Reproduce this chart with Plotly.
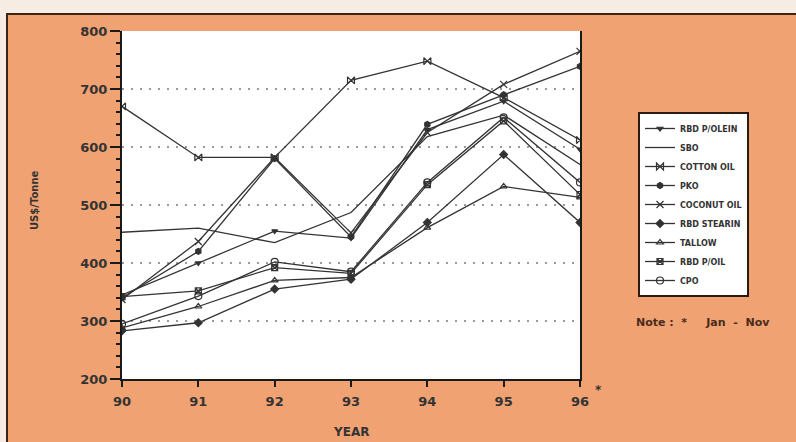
import plotly.graph_objects as go

# Vegetable oil / fat prices, US$ per tonne (1996 = Jan-Nov average)
years = [90, 91, 92, 93, 94, 95, 96]
year_labels = ["90", "91", "92", "93", "94", "95", "96"]

rbd_polein = [345, 400, 455, 443, 630, 679, 596]
sbo = [453, 460, 435, 487, 618, 655, 570]
cotton_oil = [670, 582, 582, 715, 748, 685, 612]
pko = [340, 420, 580, 445, 639, 690, 739]
coconut_oil = [337, 437, 582, 452, 625, 708, 765]
rbd_stearin = [283, 297, 355, 372, 470, 587, 470]
tallow = [288, 325, 370, 375, 461, 532, 513]
rbd_poil = [342, 352, 392, 382, 535, 645, 518]
cpo = [295, 343, 402, 385, 539, 651, 539]

series = [
    ("RBD P/OLEIN", rbd_polein, "triangle-down", 5),
    ("SBO", sbo, None, 0),
    ("COTTON OIL", cotton_oil, "bowtie-open", 7),
    ("PKO", pko, "hexagon", 6),
    ("COCONUT OIL", coconut_oil, "x-thin-open", 7),
    ("RBD STEARIN", rbd_stearin, "diamond", 6),
    ("TALLOW", tallow, "triangle-up-open", 6),
    ("RBD P/OIL", rbd_poil, "square-x-open", 6),
    ("CPO", cpo, "circle-open", 7),
]

INK = "#333333"
ORANGE = "#F1A272"
CREAM = "#F6ECE4"

# canvas geometry (pixels)
W, H = 796, 442
L, R, T, B = 122, 580, 31, 379


def px_x(p):
    return (p - L) / (R - L)


def px_y(p):
    return (B - p) / (B - T)


fig = go.Figure()
for name, vals, sym, size in series:
    if sym is None:
        fig.add_trace(go.Scatter(
            x=years, y=vals, name=name, mode="lines",
            line=dict(color=INK, width=1.3)))
    else:
        fig.add_trace(go.Scatter(
            x=years, y=vals, name=name, mode="lines+markers",
            line=dict(color=INK, width=1.3),
            marker=dict(symbol=sym, size=size, color=INK,
                        line=dict(color=INK, width=1.2))))

fig.update_layout(
    width=W, height=H,
    margin=dict(l=L, r=W - R, t=T, b=H - B, pad=0),
    paper_bgcolor=CREAM,
    plot_bgcolor="rgba(0,0,0,0)",
    showlegend=True,
    legend=dict(
        x=px_x(638), y=px_y(112), xanchor="left", yanchor="top",
        bgcolor="white", bordercolor="#2a1a12", borderwidth=2,
        font=dict(family="DejaVu Sans", size=8, color=INK, weight="bold"),
        itemwidth=30, tracegroupgap=0,
    ),
    shapes=[
        dict(type="rect", xref="paper", yref="paper", layer="below",
             x0=px_x(7), x1=px_x(805), y0=px_y(14), y1=px_y(460),
             fillcolor=ORANGE, line=dict(color="#3a2418", width=2)),
        dict(type="rect", xref="paper", yref="paper", layer="below",
             x0=0, x1=1, y0=0, y1=1,
             fillcolor="white", line=dict(width=0)),
    ],
    annotations=[
        dict(text="<b>US$/Tonne</b>", textangle=-90, xref="paper", yref="paper",
             x=px_x(34), y=px_y(200), xanchor="center", yanchor="middle",
             showarrow=False,
             font=dict(family="DejaVu Sans", size=10, color=INK)),
        dict(text="<b>YEAR</b>", xref="paper", yref="paper",
             x=px_x(351), y=px_y(432), xanchor="center", yanchor="middle",
             showarrow=False,
             font=dict(family="DejaVu Sans", size=12, color=INK)),
        dict(text="<b>*</b>", xref="paper", yref="paper",
             x=px_x(598), y=px_y(390), xanchor="center", yanchor="middle",
             showarrow=False,
             font=dict(family="DejaVu Sans", size=12, color=INK)),
        dict(text="<b>Note :  *     Jan  -  Nov</b>", xref="paper", yref="paper",
             x=px_x(634), y=px_y(322), xanchor="left", yanchor="middle",
             showarrow=False,
             font=dict(family="DejaVu Sans", size=11, color="#4a2a1c")),
    ],
)

fig.update_xaxes(
    range=[90, 96], tickvals=years, ticktext=year_labels,
    showgrid=False, zeroline=False,
    showline=True, linecolor="#1a1a1a", linewidth=2,
    ticks="outside", ticklen=6, tickwidth=1.5, tickcolor="#1a1a1a",
    ticklabelstandoff=3,
    tickfont=dict(family="DejaVu Sans", size=13, color=INK, weight="bold"),
)
fig.update_yaxes(
    range=[200, 800], tickvals=[200, 300, 400, 500, 600, 700, 800],
    showgrid=True, gridcolor="#9a9a9a", gridwidth=1.5, griddash="2px,7px",
    zeroline=False,
    showline=True, linecolor="#1a1a1a", linewidth=2, mirror=True,
    ticks="outside", ticklen=10, tickwidth=1.5, tickcolor="#1a1a1a",
    minor=dict(dtick=20, ticks="outside", ticklen=4, tickcolor="#1a1a1a",
               showgrid=False),
    tickfont=dict(family="DejaVu Sans", size=13, color=INK, weight="bold"),
)

fig.write_html("out.html")
